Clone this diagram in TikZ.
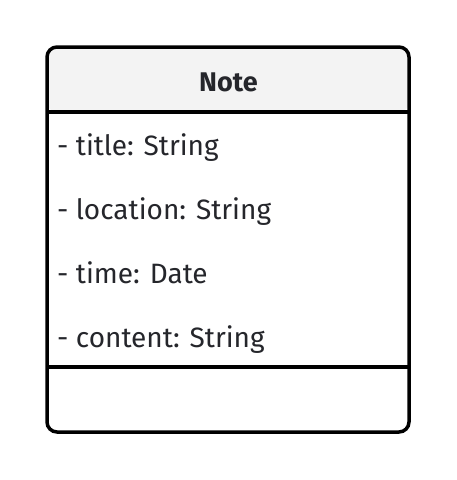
\documentclass[tikz,border=0pt]{standalone}
\usepackage{fontspec}
\setmainfont{Fira Sans}[Ligatures={NoCommon}]
\definecolor{txt}{HTML}{25262B}
\definecolor{head}{HTML}{F3F3F3}
\tikzset{
  attr/.style={anchor=base west, inner sep=0pt, text=txt, font=\fontsize{28}{34}\selectfont},
  ttl/.style={anchor=base, inner sep=0pt, text=txt, font=\fontsize{27}{34}\selectfont\bfseries},
  frame/.style={line width=3.5pt, rounded corners=10pt},
  sep/.style={line width=3.5pt}
}
\begin{document}
\begin{tikzpicture}[x=1pt,y=-1pt]
\useasboundingbox (0,0) rectangle (456,480);
\fill[head, rounded corners=10pt] (47,47) rectangle (409,112);
\fill[white] (47,112) rectangle (409,432);
\coordinate (tl) at (47,47);
\coordinate (br) at (409,432);
\coordinate (s1l) at (47,112);
\coordinate (s1r) at (409,112);
\coordinate (s2l) at (47,367);
\coordinate (s2r) at (409,367);
\draw[sep] (s1l) -- (s1r);
\draw[sep] (s2l) -- (s2r);
\draw[frame] (tl) rectangle (br);
\node[ttl] (name) at (228.5,91) {Note};
\node[attr] (a1) at (57,155) {- title: String};
\node[attr] (a2) at (57,219) {- location: String};
\node[attr] (a3) at (57,283) {- time: Date};
\node[attr] (a4) at (57,347) {- content: String};
\end{tikzpicture}
\end{document}
